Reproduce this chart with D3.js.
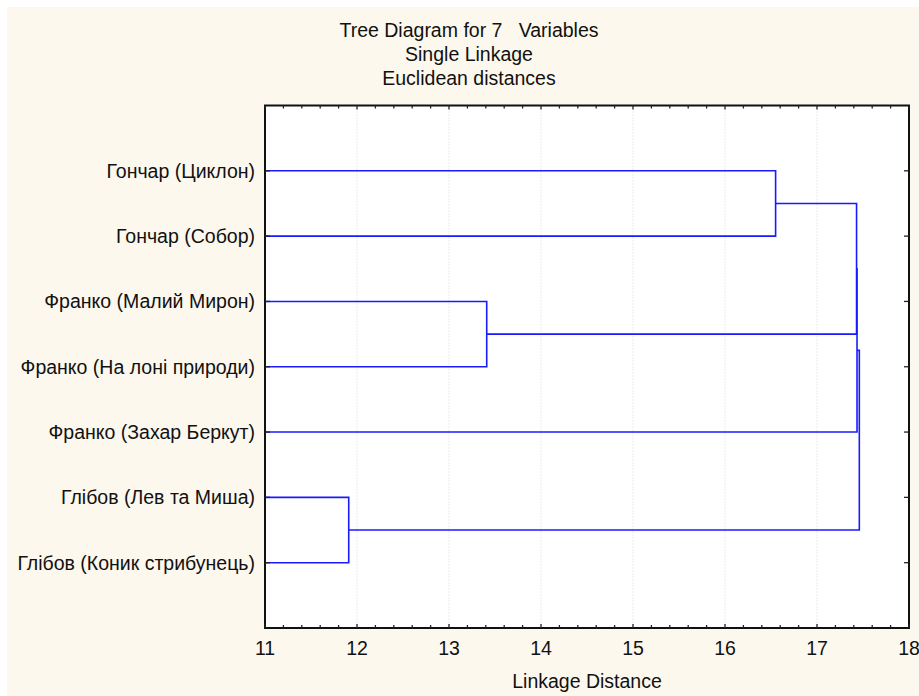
<!DOCTYPE html>
<html>
<head>
<meta charset="utf-8">
<script src="https://cdn.jsdelivr.net/npm/d3@7"></script>
<style>
  body { margin: 0; background: #fff; }
  text { font-family: "Liberation Sans", Arial, sans-serif; fill: #111; }
</style>
</head>
<body>
<svg id="chart" width="919" height="696"></svg>
<script>
// leaves, top to bottom
var labels = ["Гончар (Циклон)", "Гончар (Собор)", "Франко (Малий Мирон)",
  "Франко (На лоні природи)", "Франко (Захар Беркут)", "Глібов (Лев та Миша)",
  "Глібов (Коник стрибунець)"]

// linkage steps: node a + node b joined at distance (new node id = 7 + step)
var merge_a = [5, 2, 0, 9, 10, 11]
var merge_b = [6, 3, 1, 8, 4, 7]
var merge_dist = [11.91, 13.41, 16.55, 17.43, 17.435, 17.46]

var x_ticks = [11, 12, 13, 14, 15, 16, 17, 18]
var title_lines = ["Tree Diagram for 7   Variables", "Single Linkage", "Euclidean distances"]
var x_title = "Linkage Distance"

var width = 919, height = 696
var plot = {left: 265, right: 909, top: 105.5, bottom: 628}
var font_size = 19.5

var svg = d3.select("#chart")

svg.append("rect")
  .attr("x", 7).attr("y", 7)
  .attr("width", width - 7).attr("height", height - 7)
  .attr("fill", "#fdf8ed")

svg.append("rect")
  .attr("x", plot.left).attr("y", plot.top)
  .attr("width", plot.right - plot.left).attr("height", plot.bottom - plot.top)
  .attr("fill", "#fff")

var x = d3.scaleLinear().domain([11, 18]).range([plot.left, plot.right])
var y = d3.scaleLinear().domain([0, labels.length + 1]).range([plot.top, plot.bottom])

//dotted grid at integer distances
svg.append("g").selectAll("line")
    .data(x_ticks.slice(1, -1))
  .enter().append("line")
    .attr("x1", function(d){ return x(d) }).attr("x2", function(d){ return x(d) })
    .attr("y1", plot.top).attr("y2", plot.bottom)
    .attr("stroke", "#d8d8d8")
    .attr("stroke-width", 1)
    .attr("stroke-dasharray", "1,2")

//build node positions from the linkage table
var nodes = labels.map(function(d, i){ return {x: 11, y: i + 1} })
merge_a.forEach(function(a, i){
  var b = merge_b[i]
  nodes.push({x: merge_dist[i], y: (nodes[a].y + nodes[b].y) / 2, a: a, b: b})
})

var linkg = svg.append("g")
linkg.selectAll("path")
    .data(nodes.slice(labels.length))
  .enter().append("path")
    .attr("d", function(d){
      var na = nodes[d.a], nb = nodes[d.b]
      return "M" + x(na.x) + "," + y(na.y) +
        "H" + x(d.x) + "V" + y(nb.y) + "H" + x(nb.x)
    })
    .attr("fill", "none")
    .attr("stroke", "#1a1aff")
    .attr("stroke-width", 1.6)

//frame
svg.append("rect")
  .attr("x", plot.left).attr("y", plot.top)
  .attr("width", plot.right - plot.left).attr("height", plot.bottom - plot.top)
  .attr("fill", "none")
  .attr("stroke", "#111")
  .attr("stroke-width", 2)

//inward ticks on top and bottom, minor every 0.2
var minor = d3.range(11, 18.001, 0.2)
var tickg = svg.append("g").attr("stroke", "#222").attr("stroke-width", 1.3)
;[plot.top, plot.bottom].forEach(function(edge, k){
  var dir = k == 0 ? 1 : -1
  tickg.selectAll(null)
      .data(minor)
    .enter().append("line")
      .attr("x1", function(d){ return x(d) }).attr("x2", function(d){ return x(d) })
      .attr("y1", edge)
      .attr("y2", function(d){
        var major = Math.abs(d - Math.round(d)) < 1e-6
        return edge + dir * (major ? 4 : 3)
      })
})
;[plot.left, plot.right].forEach(function(edge, k){
  var dir = k == 0 ? 1 : -1
  tickg.selectAll(null)
      .data(labels)
    .enter().append("line")
      .attr("x1", edge).attr("x2", edge + dir * 5)
      .attr("y1", function(d, i){ return y(i + 1) })
      .attr("y2", function(d, i){ return y(i + 1) })
})

//leaf labels
svg.append("g").selectAll("text")
    .data(labels)
  .enter().append("text")
    .attr("x", plot.left - 10)
    .attr("y", function(d, i){ return y(i + 1) + 7 })
    .attr("text-anchor", "end")
    .attr("font-size", font_size)
    .text(function(d){ return d })

//x tick labels
svg.append("g").selectAll("text")
    .data(x_ticks)
  .enter().append("text")
    .attr("x", function(d){ return x(d) })
    .attr("y", 655)
    .attr("text-anchor", "middle")
    .attr("font-size", font_size)
    .text(function(d){ return d })

svg.append("text")
  .attr("x", (plot.left + plot.right) / 2)
  .attr("y", 688)
  .attr("text-anchor", "middle")
  .attr("font-size", font_size)
  .text(x_title)

svg.append("g").selectAll("text")
    .data(title_lines)
  .enter().append("text")
    .attr("x", 469)
    .attr("y", function(d, i){ return 37 + i * 24 })
    .attr("text-anchor", "middle")
    .attr("font-size", font_size)
    .attr("xml:space", "preserve")
    .style("white-space", "pre")
    .text(function(d){ return d })
</script>
</body>
</html>
